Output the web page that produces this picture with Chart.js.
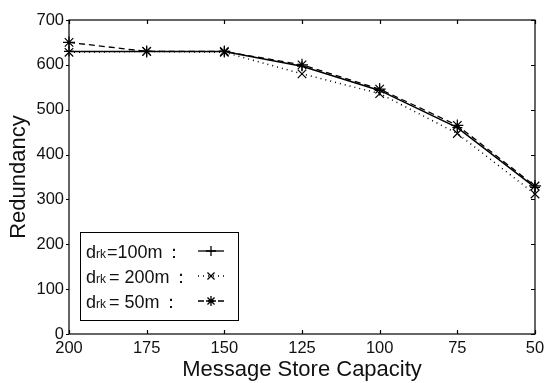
<!DOCTYPE html>
<html>
<head>
<meta charset="utf-8">
<script src="https://cdn.jsdelivr.net/npm/chart.js@4.4.1/dist/chart.umd.min.js"></script>
<style>
  html, body { margin: 0; padding: 0; background: #fff; }
  #wrap { width: 550px; height: 383px; }
</style>
</head>
<body>
<div id="wrap"><canvas id="redundancy-chart" width="550" height="383"></canvas></div>
<script>
// message store capacity (x axis, decreasing)
const capacities = ['200', '175', '150', '125', '100', '75', '50'];

// redundancy for each d_rk setting
const drk100 = [630, 630, 630, 597, 543, 460, 327];
const drk200 = [628, 630, 628, 580, 536, 447, 312];
const drk50  = [650, 630, 630, 600, 546, 465, 330];

const legendRows = [
  { value: '100m', spaced: false, dash: [], marker: 'cross' },
  { value: '200m', spaced: true, dash: [1, 4], marker: 'crossRot' },
  { value: '50m', spaced: true, dash: [6, 4], marker: 'star' }
];

const FONT = '"Liberation Sans", Arial, Helvetica, sans-serif';

function drawMarker(ctx, type, x, y, r) {
  ctx.beginPath();
  if (type === 'cross' || type === 'star') {
    ctx.moveTo(x - r, y); ctx.lineTo(x + r, y);
    ctx.moveTo(x, y - r); ctx.lineTo(x, y + r);
  }
  if (type === 'crossRot' || type === 'star') {
    const d = r * Math.cos(Math.PI / 4);
    ctx.moveTo(x - d, y - d); ctx.lineTo(x + d, y + d);
    ctx.moveTo(x - d, y + d); ctx.lineTo(x + d, y - d);
  }
  ctx.stroke();
}

// box around the plot, with small ticks
const frame = {
  id: 'frame',
  afterDraw(chart) {
    const { ctx, chartArea: a, scales } = chart;
    ctx.save();
    ctx.strokeStyle = '#000';
    ctx.lineWidth = 1.2;
    ctx.strokeRect(a.left, a.top, a.right - a.left, a.bottom - a.top);
    ctx.beginPath();
    scales.y.ticks.forEach((t, i) => {
      const y = Math.round(scales.y.getPixelForTick(i)) + 0.5;
      ctx.moveTo(a.left - 3, y); ctx.lineTo(a.left, y);
      ctx.moveTo(a.right - 4, y); ctx.lineTo(a.right, y);
    });
    scales.x.ticks.forEach((t, i) => {
      const x = Math.round(scales.x.getPixelForTick(i)) + 0.5;
      ctx.moveTo(x, a.bottom); ctx.lineTo(x, a.bottom - 4);
      ctx.moveTo(x, a.top); ctx.lineTo(x, a.top + 4);
    });
    ctx.stroke();
    ctx.restore();
  }
};

// legend box with subscripted d_rk labels
const drkLegend = {
  id: 'drkLegend',
  afterDraw(chart) {
    const ctx = chart.ctx;
    const bx = 80, by = 232, bw = 158, bh = 88;
    ctx.save();
    ctx.fillStyle = '#fff';
    ctx.fillRect(bx, by, bw, bh);
    ctx.strokeStyle = '#000';
    ctx.lineWidth = 1;
    ctx.strokeRect(bx + 0.5, by + 0.5, bw, bh);
    ctx.fillStyle = '#111';
    ctx.textBaseline = 'alphabetic';
    const rowsY = [258, 283, 308];
    legendRows.forEach((row, i) => {
      const y = rowsY[i];
      let x = 86;
      ctx.font = '18px ' + FONT;
      ctx.fillText('d', x, y);
      x += ctx.measureText('d').width;
      ctx.font = '12px ' + FONT;
      ctx.fillText('rk', x, y);
      x += ctx.measureText('rk').width + (row.spaced ? 3 : 1);
      ctx.font = '18px ' + FONT;
      const rest = row.spaced ? '= ' + row.value : '=' + row.value;
      ctx.fillText(rest, x, y);
      x += ctx.measureText(rest).width;
      ctx.fillText('：', x + 2.5, y);
      // line sample
      const ly = y - 7;
      ctx.strokeStyle = '#000';
      ctx.lineWidth = 1.3;
      ctx.setLineDash(row.dash);
      ctx.beginPath();
      ctx.moveTo(198, ly); ctx.lineTo(224, ly);
      ctx.stroke();
      ctx.setLineDash([]);
      drawMarker(ctx, row.marker, 211, ly, 5);
    });
    ctx.restore();
  }
};

const tickFont = { family: FONT, size: 16.5 };
const titleFont = { family: FONT, size: 22 };

new Chart(document.querySelector('#redundancy-chart').getContext('2d'), {
  type: 'line',
  data: {
    labels: capacities,
    datasets: [
      {
        label: 'drk = 100m',
        data: drk100,
        borderColor: '#000',
        borderWidth: 1.5,
        pointStyle: 'cross',
        pointRadius: 5,
        pointBorderColor: '#000',
        pointBorderWidth: 1.2,
        tension: 0
      },
      {
        label: 'drk = 200m',
        data: drk200,
        borderColor: '#000',
        borderWidth: 1.5,
        borderDash: [1, 4],
        pointStyle: 'crossRot',
        pointRadius: 6,
        pointBorderColor: '#000',
        pointBorderWidth: 1.2,
        tension: 0
      },
      {
        label: 'drk = 50m',
        data: drk50,
        borderColor: '#000',
        borderWidth: 1.3,
        borderDash: [6, 4],
        pointStyle: 'star',
        pointRadius: 6,
        pointBorderColor: '#000',
        pointBorderWidth: 1.2,
        tension: 0
      }
    ]
  },
  options: {
    responsive: false,
    animation: false,
    layout: { padding: { top: 20, right: 15, left: 0, bottom: 0 } },
    plugins: {
      legend: { display: false },
      tooltip: { enabled: false }
    },
    scales: {
      x: {
        offset: false,
        grid: { display: false, drawTicks: false },
        border: { display: false },
        ticks: { color: '#111', font: tickFont, padding: 5, maxRotation: 0 },
        title: {
          display: true,
          text: 'Message Store Capacity',
          color: '#111',
          font: titleFont,
          padding: { top: 0, bottom: 0 }
        },
        afterFit(scale) { scale.height = 49; }
      },
      y: {
        min: 0,
        max: 700,
        grid: { display: false, drawTicks: false },
        border: { display: false },
        ticks: { stepSize: 100, color: '#111', font: tickFont, padding: 5 },
        title: {
          display: true,
          text: 'Redundancy',
          color: '#111',
          font: titleFont,
          padding: { top: 6, bottom: 0 }
        },
        afterFit(scale) { scale.width = 69; }
      }
    }
  },
  plugins: [frame, drkLegend]
});
</script>
</body>
</html>
